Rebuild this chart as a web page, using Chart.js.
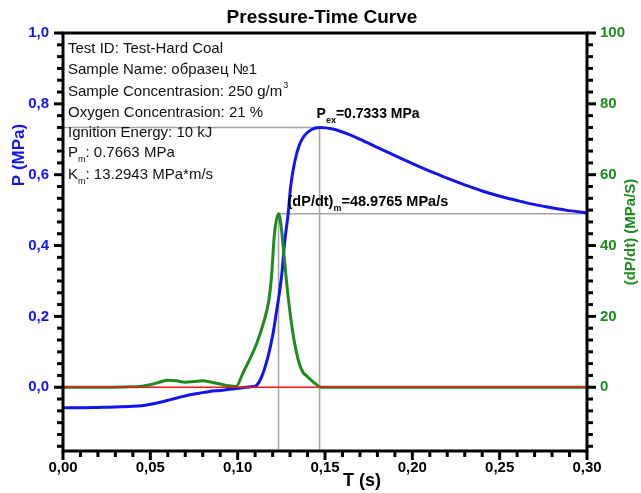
<!DOCTYPE html>
<html>
<head>
<meta charset="utf-8">
<script src="https://cdn.jsdelivr.net/npm/chart.js@4.4.1/dist/chart.umd.min.js"></script>
<style>
    html, body { margin: 0; padding: 0; background: #fff; }
</style>
</head>
<body>
<canvas id="curveChart" width="641" height="493"></canvas>
<script>
// pressure curve P (MPa)
const pTime = [0.000, 0.010, 0.020, 0.030, 0.040, 0.045, 0.050, 0.055, 0.060, 0.067, 0.072, 0.078, 0.084, 0.090, 0.095, 0.100, 0.105, 0.109, 0.111, 0.1136, 0.1173, 0.1202, 0.1221, 0.1240, 0.1255, 0.1269, 0.1289, 0.1303, 0.1326, 0.1354, 0.1383, 0.1421, 0.1469, 0.1545, 0.164, 0.1735, 0.183, 0.1926, 0.202, 0.2116, 0.221, 0.2307, 0.240, 0.2497, 0.2593, 0.2687, 0.2783, 0.2878, 0.300];
const pressure = [-0.058, -0.058, -0.057, -0.056, -0.054, -0.052, -0.048, -0.043, -0.037, -0.028, -0.022, -0.017, -0.012, -0.009, -0.006, -0.003, 0.000, 0.002, 0.006, 0.028, 0.085, 0.150, 0.210, 0.270, 0.330, 0.410, 0.490, 0.565, 0.635, 0.685, 0.711, 0.727, 0.7333, 0.729, 0.713, 0.692, 0.670, 0.648, 0.627, 0.607, 0.588, 0.570, 0.554, 0.540, 0.528, 0.517, 0.508, 0.500, 0.492];

// pressure rise rate dP/dt (MPa/s)
const dTime = [0.000, 0.020, 0.035, 0.045, 0.050, 0.055, 0.060, 0.065, 0.070, 0.075, 0.080, 0.085, 0.090, 0.095, 0.099, 0.103, 0.107, 0.111, 0.115, 0.118, 0.1195, 0.121, 0.1234, 0.125, 0.126, 0.1288, 0.1317, 0.1336, 0.1354, 0.1374, 0.1393, 0.143, 0.148, 0.200, 0.300];
const dpdt = [0, 0, 0.1, 0.3, 0.7, 1.4, 2.0, 1.8, 1.4, 1.6, 1.8, 1.4, 0.9, 0.4, 0.2, 4.0, 8.0, 12.5, 18.5, 25, 32, 43, 48.9765, 45, 40, 26, 15, 10, 6.5, 4.2, 3.3, 1.6, 0, 0, 0];

// peaks
const pexTime = 0.1469;
const pexValue = 0.7333;
const dpdtTime = 0.1234;
const dpdtMax = 48.9765;

// axis ticks
const xMajor = [0, 0.05, 0.10, 0.15, 0.20, 0.25, 0.30];
const pMajor = [0, 0.2, 0.4, 0.6, 0.8, 1.0];
const dMajor = [0, 20, 40, 60, 80, 100];

// info block (plain strings, {sub}/{sup} parts)
const infoLines = [
    ['Test ID: Test-Hard Coal'],
    ['Sample Name: образец №1'],
    ['Sample Concentrasion: 250 g/m', { sup: '3' }],
    ['Oxygen Concentrasion: 21 %'],
    ['Ignition Energy: 10 kJ'],
    ['P', { sub: 'm' }, ': 0.7663 MPa'],
    ['K', { sub: 'm' }, ': 13.2943 MPa*m/s']
];

const BLUE = '#1414ee';
const GREEN = '#1f8a1f';
const FONT = '"Liberation Sans", Arial, sans-serif';

function zip(xs, ys) {
    return xs.map((x, i) => ({ x: x, y: ys[i] }));
}

function comma(v, d) {
    return v.toFixed(d).replace('.', ',');
}

function drawRich(ctx, parts, x, y, size, bold) {
    const w = bold ? 'bold ' : '';
    ctx.textBaseline = 'middle';
    ctx.textAlign = 'left';
    parts.forEach(p => {
        if (typeof p === 'string') {
            ctx.font = w + size + 'px ' + FONT;
            ctx.fillText(p, x, y);
            x += ctx.measureText(p).width;
        } else if (p.sub) {
            ctx.font = w + Math.round(size * 0.62) + 'px ' + FONT;
            ctx.fillText(p.sub, x, y + size * 0.45);
            x += ctx.measureText(p.sub).width;
        } else if (p.sup) {
            ctx.font = w + Math.round(size * 0.6) + 'px ' + FONT;
            ctx.fillText(p.sup, x + 1, y - size * 0.4);
            x += ctx.measureText(p.sup).width + 1;
        }
    });
}

function drawTickMarks(ctx, scale, majors, minorCount, side) {
    const step = majors[1] - majors[0];
    const minor = step / (minorCount + 1);
    const k0 = Math.ceil((scale.min - majors[0]) / minor - 1e-6);
    const k1 = Math.floor((scale.max - majors[0]) / minor + 1e-6);
    ctx.strokeStyle = '#000';
    ctx.lineCap = 'butt';
    for (let k = k0; k <= k1; k++) {
        const v = majors[0] + k * minor;
        const isMajor = ((k % (minorCount + 1)) + (minorCount + 1)) % (minorCount + 1) === 0;
        const len = isMajor ? 9 : 6;
        const p = scale.getPixelForValue(v);
        ctx.lineWidth = 3;
        ctx.beginPath();
        if (side === 'left') {
            ctx.moveTo(scale.right, p); ctx.lineTo(scale.right - len, p);
        } else if (side === 'right') {
            ctx.moveTo(scale.left, p); ctx.lineTo(scale.left + len, p);
        } else {
            ctx.moveTo(p, scale.top); ctx.lineTo(p, scale.top + len);
        }
        ctx.stroke();
    }
}

const decorPlugin = {
    id: 'decor',
    afterDraw(chart) {
        const ctx = chart.ctx;
        const a = chart.chartArea;
        const xs = chart.scales.x, ys = chart.scales.y, y2 = chart.scales.y2;
        ctx.save();

        // frame
        ctx.strokeStyle = '#000';
        ctx.lineWidth = 3;
        ctx.strokeRect(a.left, a.top, a.right - a.left, a.bottom - a.top);

        drawTickMarks(ctx, ys, pMajor, 5, 'left');
        drawTickMarks(ctx, y2, dMajor, 5, 'right');
        drawTickMarks(ctx, xs, xMajor, 4, 'bottom');

        // title
        ctx.fillStyle = '#000';
        ctx.textAlign = 'center';
        ctx.textBaseline = 'middle';
        ctx.font = 'bold 19px ' + FONT;
        ctx.fillText('Pressure-Time Curve', 322, 18);

        // axis titles
        ctx.font = 'bold 18px ' + FONT;
        ctx.fillText('T (s)', 362, 481);

        ctx.save();
        ctx.translate(19, 155);
        ctx.rotate(-Math.PI / 2);
        ctx.fillStyle = BLUE;
        ctx.font = 'bold 17px ' + FONT;
        ctx.fillText('P (MPa)', 0, 0);
        ctx.restore();

        ctx.save();
        ctx.translate(631, 232);
        ctx.rotate(-Math.PI / 2);
        ctx.fillStyle = GREEN;
        ctx.font = 'bold 15px ' + FONT;
        ctx.fillText('(dP/dt) (MPa/S)', 0, 0);
        ctx.restore();

        // info block
        ctx.fillStyle = '#111';
        infoLines.forEach((line, i) => {
            const yy = [49, 70, 92, 113, 133, 153, 175][i];
            drawRich(ctx, line, 68, yy, 15, false);
        });

        // peak labels
        ctx.fillStyle = '#000';
        drawRich(ctx, ['P', { sub: 'ex' }, '=' + pexValue.toFixed(4) + ' MPa'],
            xs.getPixelForValue(pexTime) - 3, ys.getPixelForValue(pexValue) - 13, 14, true);
        drawRich(ctx, ['(dP/dt)', { sub: 'm' }, '=' + dpdtMax.toFixed(4) + ' MPa/s'],
            xs.getPixelForValue(dpdtTime) + 9, y2.getPixelForValue(dpdtMax) - 12, 14.5, true);

        ctx.restore();
    }
};

const grayLine = {
    borderColor: '#a3a3a3',
    borderWidth: 1.5,
    pointRadius: 0,
    tension: 0
};

const ctx = document.getElementById('curveChart').getContext('2d');
const chart = new Chart(ctx, {
    type: 'line',
    data: {
        datasets: [{
            label: 'zero',
            data: [{ x: 0, y: 0 }, { x: 0.3, y: 0 }],
            borderColor: '#f01818',
            borderWidth: 1.5,
            pointRadius: 0,
            yAxisID: 'y'
        }, {
            label: 'dP/dt',
            data: zip(dTime, dpdt),
            borderColor: GREEN,
            borderWidth: 3,
            pointRadius: 0,
            cubicInterpolationMode: 'monotone',
            yAxisID: 'y2'
        }, {
            label: 'P',
            data: zip(pTime, pressure),
            borderColor: BLUE,
            borderWidth: 3,
            pointRadius: 0,
            cubicInterpolationMode: 'monotone',
            yAxisID: 'y'
        }, Object.assign({
            label: 'pex h',
            data: [{ x: 0, y: pexValue }, { x: pexTime, y: pexValue }],
            yAxisID: 'y'
        }, grayLine), Object.assign({
            label: 'pex v',
            data: [{ x: pexTime, y: -0.18 }, { x: pexTime, y: pexValue }],
            yAxisID: 'y'
        }, grayLine), Object.assign({
            label: 'dpdt h',
            data: [{ x: dpdtTime, y: dpdtMax }, { x: 0.3, y: dpdtMax }],
            yAxisID: 'y2'
        }, grayLine), Object.assign({
            label: 'dpdt v',
            data: [{ x: dpdtTime, y: -18 }, { x: dpdtTime, y: dpdtMax }],
            yAxisID: 'y2'
        }, grayLine)]
    },
    options: {
        responsive: false,
        animation: false,
        devicePixelRatio: 1,
        layout: { padding: { top: 33, left: 0, right: 0, bottom: 0 } },
        plugins: {
            legend: { display: false },
            title: { display: false },
            tooltip: { enabled: false }
        },
        scales: {
            x: {
                type: 'linear',
                min: 0,
                max: 0.3,
                afterFit: s => { s.height = 42; },
                afterBuildTicks: s => { s.ticks = xMajor.map(v => ({ value: v })); },
                grid: { display: false, drawTicks: false },
                border: { display: false },
                ticks: {
                    padding: 8,
                    color: '#000',
                    font: { family: FONT, size: 15, weight: 'bold' },
                    maxRotation: 0,
                    autoSkip: false,
                    callback: v => comma(v, 2)
                }
            },
            y: {
                type: 'linear',
                position: 'left',
                min: -0.18,
                max: 1.0,
                afterFit: s => { s.width = 63; },
                afterBuildTicks: s => { s.ticks = pMajor.map(v => ({ value: v })); },
                grid: { display: false, drawTicks: false },
                border: { display: false },
                ticks: {
                    padding: 14,
                    color: BLUE,
                    font: { family: FONT, size: 15, weight: 'bold' },
                    callback: v => comma(v, 1)
                }
            },
            y2: {
                type: 'linear',
                position: 'right',
                min: -18,
                max: 100,
                afterFit: s => { s.width = 54; },
                afterBuildTicks: s => { s.ticks = dMajor.map(v => ({ value: v })); },
                grid: { display: false, drawTicks: false },
                border: { display: false },
                ticks: {
                    padding: 13,
                    color: GREEN,
                    font: { family: FONT, size: 15, weight: 'bold' },
                    callback: v => String(v)
                }
            }
        }
    },
    plugins: [decorPlugin]
});
</script>
</body>
</html>
